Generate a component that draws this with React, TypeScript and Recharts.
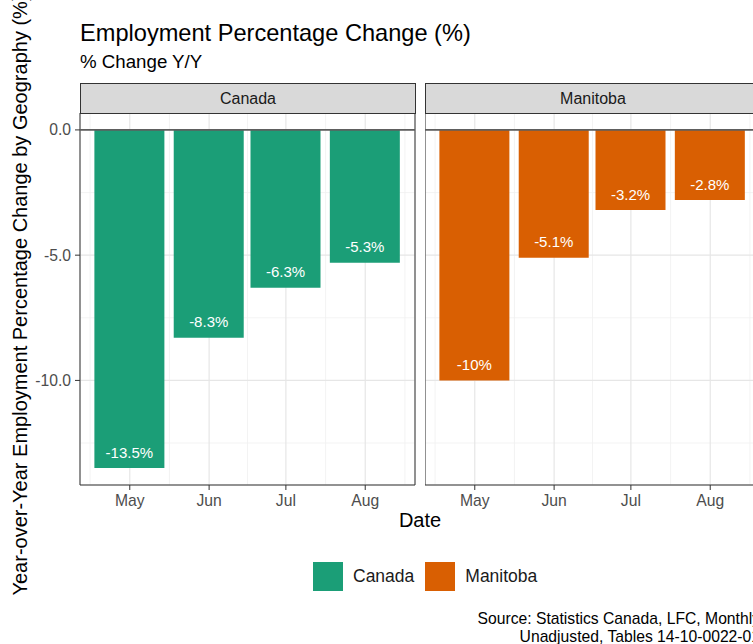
import React from 'react';
import {
  BarChart,
  Bar,
  XAxis,
  YAxis,
  CartesianGrid,
  ReferenceLine,
  ReferenceArea,
  LabelList,
} from 'recharts';

// ---- data ----
const months = ['May', 'Jun', 'Jul', 'Aug'];
const dayOffsets = [0, 31, 61, 92]; // days since May 1
const canadaValues = [-13.5, -8.3, -6.3, -5.3];
const manitobaValues = [-10.0, -5.1, -3.2, -2.8];
const geographies = ['Canada', 'Manitoba'];
const geoColors = ['#1B9E77', '#D95F02'];
const yTicks = [0, -5, -10];
const yMinorTicks = [-2.5, -7.5, -12.5];
const xMinorTicks = [-15.5, 15.5, 46, 76.5, 107.5];
const xDomain: [number, number] = [-19.45, 111.45];
const yDomain: [number, number] = [-14.175, 0.675];

const FONT = '"Liberation Sans", Arial, sans-serif';

const fmtLabel = (v: number) => {
  const r = Math.round(v * 10) / 10;
  return (Number.isInteger(r) ? r.toFixed(0) : r.toFixed(1)) + '%';
};

const BarLabel = (props: any) => {
  const vb = props.viewBox || props;
  const x = Number(vb.x);
  const y = Number(vb.y);
  const w = Number(vb.width);
  const h = Number(vb.height);
  const bottom = Math.max(y, y + h);
  return (
    <text
      x={x + w / 2}
      y={bottom - 16}
      textAnchor="middle"
      dominantBaseline="central"
      fill="#ffffff"
      fontSize={15}
      fontFamily={FONT}
    >
      {fmtLabel(Number(props.value))}
    </text>
  );
};

type PanelProps = {
  values: number[];
  color: string;
  left: number;
  showY: boolean;
};

const Panel = ({ values, color, left, showY }: PanelProps) => {
  const rows = months.map((m, i) => ({ day: dayOffsets[i], month: m, value: values[i] }));
  const width = showY ? 420 : 340;
  return (
    <div style={{ position: 'absolute', left, top: 0 }}>
      <BarChart
        width={width}
        height={525}
        data={rows}
        margin={{ top: 113, right: 5, bottom: 10, left: showY ? 20 : 0 }}
        barCategoryGap={0}
        barGap={0}
      >
        <CartesianGrid
          stroke="#f0f0f0"
          strokeWidth={0.8}
          horizontalValues={yMinorTicks}
          verticalValues={xMinorTicks}
        />
        <CartesianGrid stroke="#e6e6e6" strokeWidth={1.2} />
        <XAxis
          type="number"
          dataKey="day"
          domain={xDomain}
          allowDataOverflow
          ticks={dayOffsets}
          interval={0}
          tickFormatter={(v: number) => months[dayOffsets.indexOf(v)] ?? ''}
          axisLine={false}
          tickLine={{ stroke: '#333333' }}
          tickSize={5}
          tickMargin={5}
          tick={{ fill: '#4d4d4d', fontSize: 15.7, fontFamily: FONT }}
          height={30}
        />
        <YAxis
          type="number"
          domain={yDomain}
          allowDataOverflow
          ticks={yTicks}
          interval={0}
          tickFormatter={(v: number) => v.toFixed(1)}
          axisLine={false}
          tickLine={{ stroke: '#333333' }}
          tickSize={5}
          tickMargin={4}
          tick={{ fill: '#4d4d4d', fontSize: 15.7, fontFamily: FONT }}
          width={60}
          hide={!showY}
        />
        <Bar dataKey="value" fill={color} barSize={70} isAnimationActive={false}>
          <LabelList dataKey="value" content={<BarLabel />} />
        </Bar>
        <ReferenceLine y={0} stroke="#5e5e5e" strokeWidth={1.8} ifOverflow="visible" />
        <ReferenceArea
          x1={xDomain[0]}
          x2={xDomain[1]}
          y1={yDomain[0]}
          y2={yDomain[1]}
          fill="none"
          stroke="#333333"
          strokeWidth={1}
          ifOverflow="visible"
        />
      </BarChart>
    </div>
  );
};

const Strip = ({ label, left }: { label: string; left: number }) => (
  <div
    style={{
      position: 'absolute',
      left,
      top: 83,
      width: 336,
      height: 31,
      boxSizing: 'border-box',
      border: '1px solid #333333',
      background: '#d9d9d9',
      fontFamily: FONT,
      fontSize: 16,
      color: '#1a1a1a',
      textAlign: 'center',
      lineHeight: '29px',
    }}
  >
    {label}
  </div>
);

export default function App() {
  return (
    <div
      style={{
        position: 'fixed',
        left: 0,
        top: 0,
        width: 753,
        height: 644,
        overflow: 'hidden',
        background: '#ffffff',
      }}
    >
      <Panel values={canadaValues} color={geoColors[0]} left={0} showY />
      <Panel values={manitobaValues} color={geoColors[1]} left={425} showY={false} />
      <Strip label={geographies[0]} left={80} />
      <Strip label={geographies[1]} left={425} />

      <svg
        width={753}
        height={644}
        style={{ position: 'absolute', left: 0, top: 0, pointerEvents: 'none' }}
        fontFamily={FONT}
      >
        <text x={80} y={40.5} fontSize={23.6} fill="#000000">
          Employment Percentage Change (%)
        </text>
        <text x={80} y={67.5} fontSize={18.7} fill="#000000">
          % Change Y/Y
        </text>
        <text x={420} y={527} fontSize={20} fill="#000000" textAnchor="middle">
          Date
        </text>
        <text
          x={0}
          y={0}
          fontSize={20}
          fill="#000000"
          textAnchor="middle"
          transform="translate(27,295) rotate(-90)"
        >
          Year-over-Year Employment Percentage Change by Geography (%)
        </text>
        <text x={760} y={624} fontSize={15.7} fill="#000000" textAnchor="end">
          Source: Statistics Canada, LFC, Monthly
        </text>
        <text x={760} y={642} fontSize={15.7} fill="#000000" textAnchor="end">
          Unadjusted, Tables 14-10-0022-01
        </text>
      </svg>

      <div
        style={{
          position: 'absolute',
          left: 313,
          top: 562,
          display: 'flex',
          alignItems: 'center',
          fontFamily: FONT,
          fontSize: 17.5,
          color: '#1a1a1a',
        }}
      >
        {geographies.map((g, i) => (
          <div key={g} style={{ display: 'flex', alignItems: 'center', marginRight: 11 }}>
            <div style={{ width: 30, height: 29, background: geoColors[i], marginRight: 10 }} />
            <span>{g}</span>
          </div>
        ))}
      </div>
    </div>
  );
}
